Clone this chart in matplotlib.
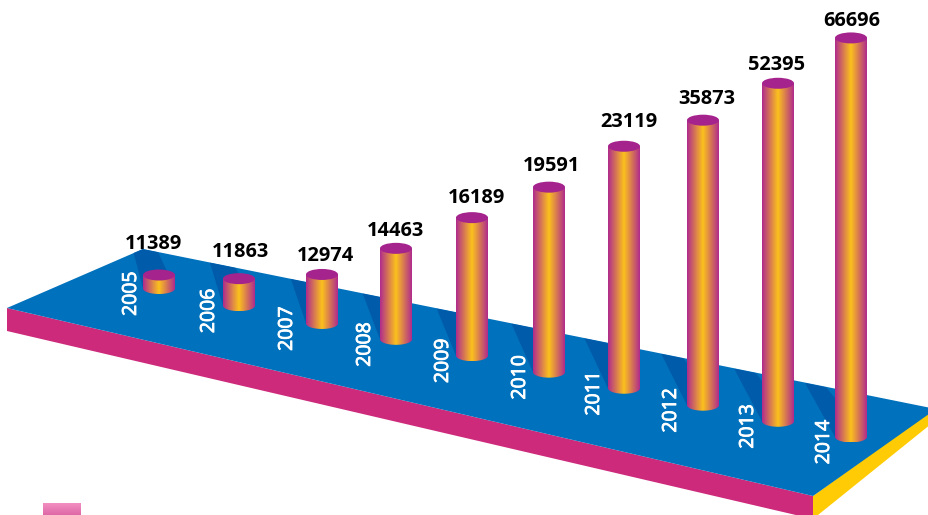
import numpy as np
import matplotlib
matplotlib.use("Agg")
import matplotlib.pyplot as plt
import matplotlib.patheffects as pe
from matplotlib.colors import LinearSegmentedColormap
from matplotlib.patches import Ellipse, Polygon
from matplotlib.path import Path

plt.rcParams['font.family'] = ['Open Sans', 'DejaVu Sans']

# Data
years = [2005, 2006, 2007, 2008, 2009, 2010, 2011, 2012, 2013, 2014]
values = [11389, 11863, 12974, 14463, 16189, 19591, 23119, 35873, 52395, 66696]
# the drawn cylinders are not to scale with the values, so heights are read separately
bar_height = [13.5, 27, 49, 91, 138, 185, 242, 285, 338, 399]

# Layout, in pixels of the image
bar_x = [159, 239, 322, 396, 472, 549, 624, 703, 778, 851]
value_dx = [-5, 1, 3, -1, 5, 3, 5, 4, -1, 1]
value_dy = [31, 27, 18, 17, 20, 21, 24, 21, 18, 17]
year_dx = [-28, -30, -35, -31, -29, -29, -30, -32, -30, -27]
R = 16
RY = 5.5

plate_top = [(7, 308), (143, 249), (936, 409), (813, 496)]
plate_front = [(7, 308), (813, 496), (813, 519), (7, 331)]
plate_side = [(813, 496), (936, 407), (936, 420), (813, 519)]


def base_y(x):
    return 288.5 + 0.2145 * (x - 159)


def back_y(x):
    return 249 + 0.2023 * (x - 143)


fig = plt.figure(figsize=(9.29, 5.15), dpi=100)
ax = fig.add_axes([0, 0, 1, 1])
ax.axis('off')

ax.add_patch(Polygon(plate_front, color='#cd2a7b', lw=0, zorder=1))
ax.add_patch(Polygon(plate_side, color='#ffcb05', lw=0, zorder=1))
top = Polygon(plate_top, color='#0071bc', lw=0, zorder=2)
ax.add_patch(top)

bar_cmap = LinearSegmentedColormap.from_list('bar', ['#b02c8c', '#fcc21c', '#b02c8c'])
grad = np.linspace(0, 1, 128).reshape(1, -1)

for i, (x, h) in enumerate(zip(bar_x, bar_height)):
    y0 = base_y(x)
    y1 = y0 - h

    # shadow on the plate, leaning further left towards the front
    left = x - 27 - 19 * i / 9
    right = x - 1 - 24 * i / 9
    shadow = Polygon([(x - R, y0), (left, back_y(left)), (right, back_y(right)), (x + R, y0)],
                     color='#005baa', lw=0, zorder=3)
    ax.add_patch(shadow)
    shadow.set_clip_path(top)

    # cylinder body with horizontal gradient
    t = np.linspace(np.pi, 0, 40)
    outline = np.column_stack([x + R * np.cos(t), y0 + RY * np.sin(t)])
    outline = np.vstack([[(x - R, y1)], outline, [(x + R, y1)], [(x - R, y1)]])
    im = ax.imshow(grad, cmap=bar_cmap, extent=(x - R, x + R, y0 + RY, y1), aspect='auto', zorder=4)
    im.set_clip_path(Path(outline), ax.transData)
    ax.add_patch(Ellipse((x, y1), 2 * R, 2 * RY, color='#a5238d', lw=0, zorder=5))

    ax.text(x + year_dx[i], y0 + 5, str(years[i]), color='white', fontsize=14,
            rotation=90, ha='center', va='center', zorder=6,
            path_effects=[pe.withStroke(linewidth=0.6, foreground='white')])
    ax.text(x + value_dx[i], y1 - value_dy[i], str(values[i]), color='black', fontsize=14.4,
            fontweight='bold', ha='center', va='center', zorder=6)

# legend swatch, without text
swatch_cmap = LinearSegmentedColormap.from_list('swatch', ['#f38fc0', '#de68a8'])
ax.imshow(np.linspace(0, 1, 32).reshape(-1, 1), cmap=swatch_cmap, extent=(43, 81, 515, 503), aspect='auto', zorder=2)

ax.set_xlim(0, 929)
ax.set_ylim(515, 0)
fig.savefig('out.png', dpi=100)
